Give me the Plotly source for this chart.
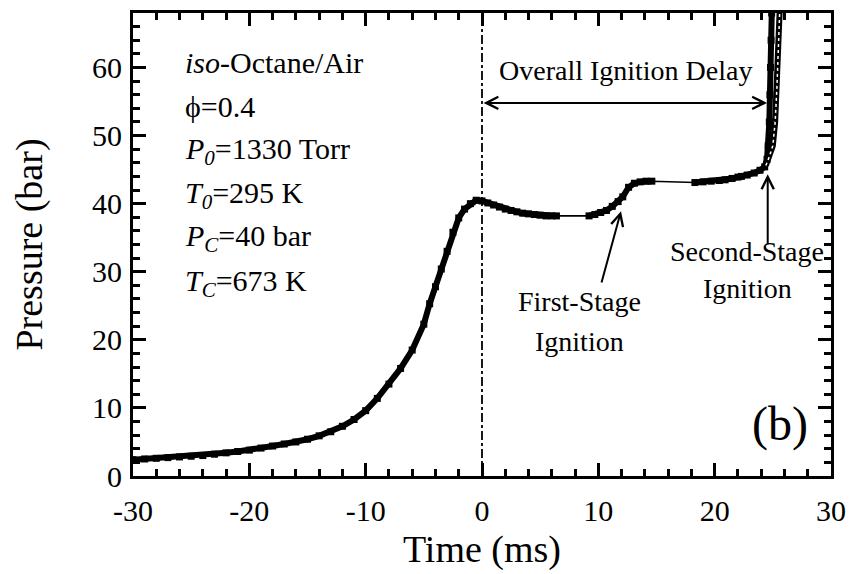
import plotly.graph_objects as go

# ---------------- data ----------------
# compression stroke and end of compression (dense, noisy part)
compress_t = [-30, -29, -28, -27, -26, -25, -24, -23, -22, -21, -20, -19, -18, -17,
              -16, -15, -14, -13, -12, -11, -10, -9, -8, -7, -6, -5, -4.5, -4,
              -3.5, -3, -2.5, -2, -1.5, -1, -0.5, 0, 0.5, 1, 1.5, 2, 2.5, 3,
              3.5, 4, 4.5, 5, 5.5, 6, 6.4]
compress_p = [2.4, 2.5, 2.6, 2.7, 2.8, 2.9, 3.0, 3.2, 3.4, 3.6, 3.8, 4.1, 4.4, 4.7,
              5.0, 5.4, 5.9, 6.5, 7.3, 8.3, 9.6, 11.4, 13.5, 15.8, 18.5, 22.3, 25.3, 27.8,
              30.4, 33.0, 35.8, 37.9, 39.2, 40.0, 40.5, 40.4, 40.1, 39.8, 39.5, 39.2, 39.0, 38.8,
              38.6, 38.5, 38.4, 38.3, 38.2, 38.2, 38.2]
# first-stage ignition
first_t = [9.2, 9.7, 10.2, 10.7, 11.2, 11.7, 12.1, 12.6, 13.1, 13.6, 14.1, 14.6]
first_p = [38.2, 38.4, 38.7, 39.0, 39.6, 40.3, 41.0, 42.4, 43.0, 43.2, 43.3, 43.3]
# plateau and second-stage ignition
second_t = [18.3, 19.0, 19.7, 20.4, 20.9, 21.5, 22.0, 22.3, 22.8, 23.4, 23.9, 24.3,
            24.5, 24.6, 24.7, 24.75, 24.8, 24.85, 24.9, 24.95]
second_p = [43.1, 43.2, 43.3, 43.4, 43.5, 43.7, 43.9, 44.0, 44.2, 44.5, 44.9, 45.4,
            46.5, 48.5, 52.0, 56.0, 60.0, 64.0, 68.0, 71.0]
# later-rising repeat run near the main ignition
repeat_t = [24.4, 24.7, 25.0, 25.2, 25.35, 25.45, 25.55, 25.65]
repeat_p = [45.6, 46.9, 48.5, 52.0, 57.0, 62.0, 67.0, 71.0]

x_tick_vals = [-30, -20, -10, 0, 10, 20, 30]
x_tick_text = ["-30", "-20", "-10", "0", "10", "20", "30"]
y_tick_vals = [0, 10, 20, 30, 40, 50, 60]
y_tick_text = ["0", "10", "20", "30", "40", "50", "60"]

ignition_onset_ms = 0.0
ignition_end_ms = 24.5
first_stage_ms, first_stage_bar = 11.95, 38.9
second_stage_ms, second_stage_bar = 24.56, 44.3

info_lines = ["<i>iso</i>-Octane/Air", "\u03d5=0.4", "<i>P<sub>0</sub></i>=1330 Torr",
              "<i>T<sub>0</sub></i>=295 K", "<i>P<sub>C</sub></i>=40 bar",
              "<i>T<sub>C</sub></i>=673 K"]
info_y = [60.7, 54.2, 47.8, 41.3, 34.9, 28.4]

FONT = "Liberation Serif"
BLACK = "black"

fig = go.Figure()

# thin connecting line through all samples
all_t = compress_t + first_t + second_t
all_p = compress_p + first_p + second_p
fig.add_trace(go.Scatter(x=all_t, y=all_p, mode="lines",
                         line=dict(color=BLACK, width=1.6), hoverinfo="skip",
                         showlegend=False))

# thick noisy segments
for tt, pp in [(compress_t, compress_p), (first_t, first_p), (second_t, second_p)]:
    fig.add_trace(go.Scatter(x=tt, y=pp, mode="lines+markers",
                             line=dict(color=BLACK, width=6),
                             marker=dict(symbol="square", size=7, color=BLACK),
                             showlegend=False))

fig.add_trace(go.Scatter(x=repeat_t, y=repeat_p, mode="lines",
                         line=dict(color=BLACK, width=6), showlegend=False))
fig.add_trace(go.Scatter(x=repeat_t, y=repeat_p, mode="lines",
                         line=dict(color="white", width=1.5, dash="dot"),
                         showlegend=False))

# dash-dot vertical line at ignition onset
fig.add_shape(type="line", xref="x", yref="paper", x0=ignition_onset_ms,
              x1=ignition_onset_ms, y0=0, y1=1,
              line=dict(color=BLACK, width=1.8, dash="dashdot"))

# double arrow: overall ignition delay
fig.add_annotation(x=ignition_end_ms, y=54.8, ax=ignition_onset_ms, ay=54.8,
                   xref="x", yref="y", axref="x", ayref="y", text="",
                   showarrow=True, arrowhead=5, startarrowhead=5,
                   arrowside="end+start", arrowwidth=2, arrowsize=1.2,
                   startarrowsize=1.2, arrowcolor=BLACK)
fig.add_annotation(x=12.36, y=59.6, xref="x", yref="y", text="Overall Ignition Delay",
                   showarrow=False, font=dict(family=FONT, size=28, color=BLACK))

# first-stage arrow and label
fig.add_annotation(x=first_stage_ms, y=first_stage_bar, ax=10.24, ay=28.2,
                   xref="x", yref="y", axref="x", ayref="y", text="",
                   showarrow=True, arrowhead=5, arrowwidth=2, arrowsize=1.2,
                   arrowcolor=BLACK)
fig.add_annotation(x=8.35, y=25.6, xref="x", yref="y", text="First-Stage",
                   showarrow=False, font=dict(family=FONT, size=28, color=BLACK))
fig.add_annotation(x=8.35, y=19.8, xref="x", yref="y", text="Ignition",
                   showarrow=False, font=dict(family=FONT, size=28, color=BLACK))

# second-stage arrow and label
fig.add_annotation(x=second_stage_ms, y=second_stage_bar, ax=second_stage_ms, ay=33.8,
                   xref="x", yref="y", axref="x", ayref="y", text="",
                   showarrow=True, arrowhead=5, arrowwidth=2, arrowsize=1.2,
                   arrowcolor=BLACK)
fig.add_annotation(x=22.77, y=32.9, xref="x", yref="y", text="Second-Stage",
                   showarrow=False, font=dict(family=FONT, size=28, color=BLACK))
fig.add_annotation(x=22.85, y=27.5, xref="x", yref="y", text="Ignition",
                   showarrow=False, font=dict(family=FONT, size=28, color=BLACK))

# conditions text block
for txt, yy in zip(info_lines, info_y):
    fig.add_annotation(x=-25.74, y=yy, xref="x", yref="y", text=txt, xanchor="left",
                       showarrow=False, font=dict(family=FONT, size=30, color=BLACK))

# panel label
fig.add_annotation(x=25.6, y=7.7, xref="x", yref="y", text="(b)", showarrow=False,
                   font=dict(family=FONT, size=48, color=BLACK))

axis_common = dict(showline=True, linecolor=BLACK, linewidth=3, mirror="allticks",
                   ticks="inside", ticklen=13, tickwidth=2.5, tickcolor=BLACK,
                   showgrid=False, zeroline=False,
                   minor=dict(ticks="inside", ticklen=7, tickwidth=2.5,
                              tickcolor=BLACK, dtick=2, showgrid=False))

fig.update_xaxes(range=[-30, 30], tickmode="array", tickvals=x_tick_vals,
                 ticktext=x_tick_text, ticklabelstandoff=6,
                 tickfont=dict(family=FONT, size=30, color=BLACK),
                 title=dict(text="Time (ms)", font=dict(family=FONT, size=38, color=BLACK),
                            standoff=10),
                 **axis_common)
fig.update_yaxes(range=[0, 68], tickmode="array", tickvals=y_tick_vals,
                 ticktext=y_tick_text, ticklabelstandoff=2,
                 tickfont=dict(family=FONT, size=30, color=BLACK),
                 title=dict(text="Pressure (bar)", font=dict(family=FONT, size=38, color=BLACK),
                            standoff=38),
                 **axis_common)

fig.update_layout(width=856, height=574, margin=dict(l=133, r=19, t=10, b=95),
                  plot_bgcolor="white", paper_bgcolor="white", showlegend=False,
                  font=dict(family=FONT, color=BLACK))

fig.write_html("out.html")
